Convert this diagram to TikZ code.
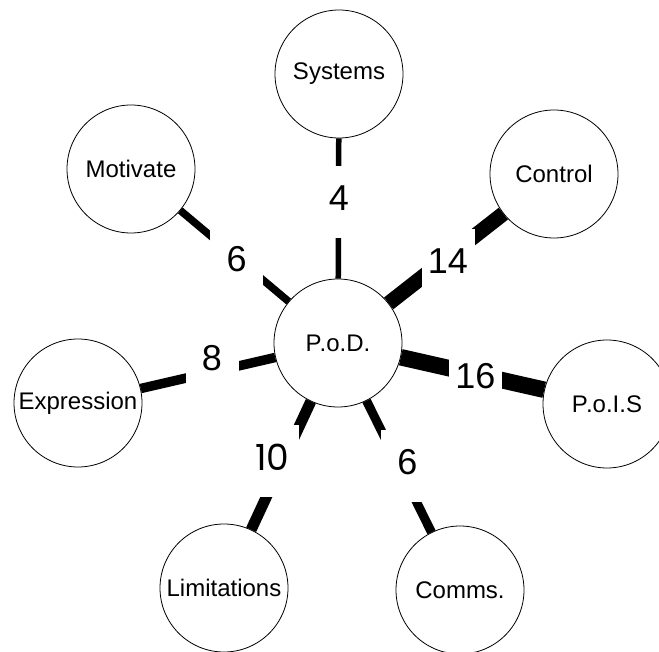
\documentclass[tikz,border=0pt]{standalone}
\usepackage{fontspec}
\setmainfont{Liberation Sans}
\newfontfamily\geofont{Poppins}
\begin{document}
\begin{tikzpicture}[x=1pt,y=-1pt,
  topic/.style={circle,draw=black,line width=0.8pt,fill=white,
    minimum size=128pt,inner sep=0pt,font=\fontsize{24}{28}\selectfont},
  weight/.style={fill=white,minimum width=53pt,minimum height=72pt,
    inner sep=0pt,text depth=8pt,font=\fontsize{36}{40}\selectfont},
  link/.style={line width=#1,line cap=butt,draw=black}]
\useasboundingbox (0,0) rectangle (659,652);

% topics
\node[topic] (pod)  at (338,343) {P\kern-2pt.o.D.};
\node[topic] (sys)  at (339,74)  {Systems};
\node[topic] (ctl)  at (554,174) {Control};
\node[topic] (mot)  at (131,169) {Motivate};
\node[topic] (expr) at (78,403)  {Expression};
\node[topic] (pois) at (607,404) {P\kern-2pt.o.I.S};
\node[topic] (lim)  at (224,588) {Limitations};
\node[topic] (com)  at (460,590) {Comms.};

% weighted links
\draw[link=5.5pt]  (pod) -- (sys);
\draw[link=15pt]   (pod) -- (ctl);
\draw[link=7.5pt]  (pod) -- (mot);
\draw[link=9.5pt]  (pod) -- (expr);
\draw[link=16.5pt] (pod) -- (pois);
\draw[link=11pt]   (pod) -- (lim);
\draw[link=9pt]    (pod) -- (com);

% weights
\node[weight] (w4)  at (339,202.5) {4};
\node[weight] (w14) at (448,265)   {14};
\node[weight] (w6a) at (236.7,263) {6};
\node[weight] (w8)  at (212,362)   {8};
\node[weight] (w16) at (475.5,380) {16};
\node[weight,font=\fontsize{36}{40}\geofont] (w10) at (272.5,461) {10};
\node[weight] (w6b) at (407.5,466) {6};
\end{tikzpicture}
\end{document}
